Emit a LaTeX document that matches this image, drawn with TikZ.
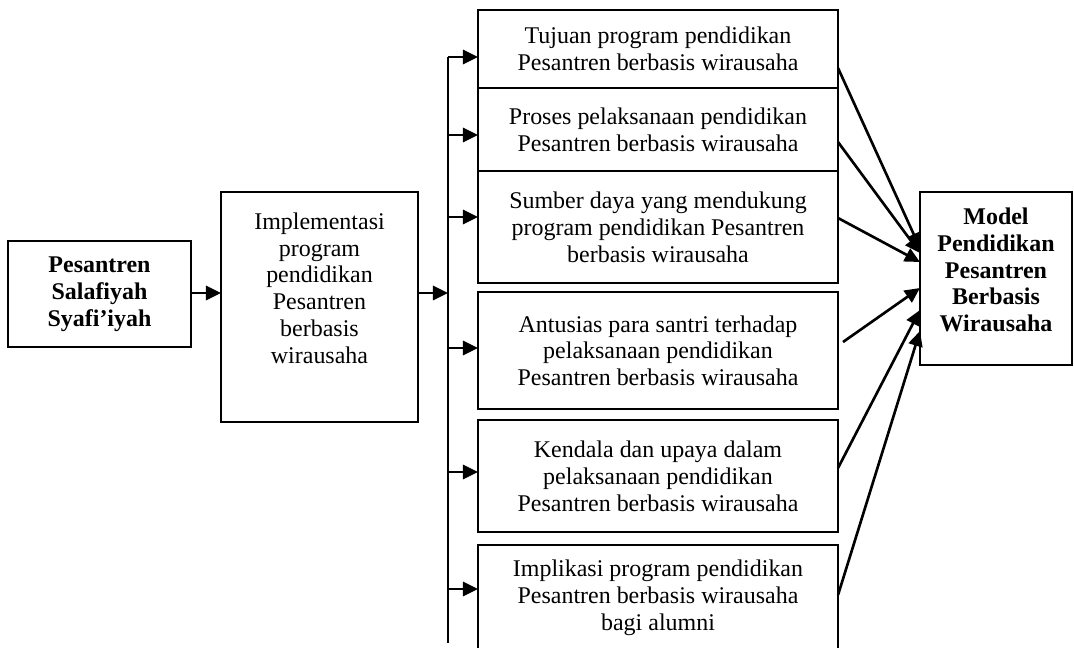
\documentclass[tikz,border=0pt]{standalone}
\usepackage{fontspec}
\setmainfont{Liberation Serif}
\usepackage{tikz}
\usetikzlibrary{arrows.meta, positioning, calc}

\begin{document}
\begin{tikzpicture}[x=0.53pt, y=-0.53pt, >={Triangle[length=8pt,width=7.5pt]}, every node/.style={font=\fontsize{12.7}{14.2}\selectfont}]
    \tikzstyle{block} = [rectangle, draw, line width=1pt, align=center, outer sep=0pt, inner sep=2pt]
    \tikzstyle{midblock} = [block, minimum width=190.8pt]
    \tikzstyle{line} = [draw, ->, line width=1.4pt]

    \useasboundingbox (0,0) rectangle (1074,647);
    \clip (0,0) rectangle (1074,647);

    \node [block, minimum width=97pt, minimum height=56.2pt, font=\fontsize{12.7}{14.2}\selectfont\bfseries] (salafiyah) at (99.5,294) {Pesantren\\Salafiyah\\Syafi’iyah};
    \node [block, minimum width=104.4pt, minimum height=121.9pt] (implementasi) at (319.5,307) {Implementasi\\program\\pendidikan\\Pesantren\\berbasis\\wirausaha\\[6pt]\mbox{}};

    \node [midblock, minimum height=41.3pt] (tujuan) at (658,49) {Tujuan program pendidikan\\Pesantren berbasis wirausaha};
    \node [midblock, minimum height=44pt, below=0pt of tujuan] (proses) {Proses pelaksanaan pendidikan\\Pesantren berbasis wirausaha};
    \node [midblock, minimum height=59.4pt, below=0pt of proses] (sumber) {Sumber daya yang mendukung\\program pendidikan Pesantren\\berbasis wirausaha};
    \node [midblock, minimum height=62pt, below=4.8pt of sumber] (antusias) {Antusias para santri terhadap\\pelaksanaan pendidikan\\Pesantren berbasis wirausaha};
    \node [midblock, minimum height=59.4pt, below=5.8pt of antusias] (kendala) {Kendala dan upaya dalam\\pelaksanaan pendidikan\\Pesantren berbasis wirausaha};
    \node [midblock, minimum height=55.7pt, below=6.9pt of kendala] (implikasi) {Implikasi program pendidikan\\Pesantren berbasis wirausaha\\bagi alumni};

    \node [block, minimum width=80.6pt, minimum height=91.7pt, font=\fontsize{12.7}{14.2}\selectfont\bfseries] (model) at (996,278.5) {Model\\Pendidikan\\Pesantren\\Berbasis\\Wirausaha\\[-5pt]\mbox{}};

    % trunk line feeding the six aspects
    \coordinate (trunktop) at (448,57);
    \coordinate (trunkbot) at (448,643);
    \draw [line width=1.4pt] (trunktop) -- (trunkbot);

    \path [line] (salafiyah.east |- 0,293) -- (implementasi.west |- 0,293);
    \path [line] (implementasi.east |- 0,293) -- (trunktop |- 0,293);
    \foreach \y/\n in {57/tujuan, 135/proses, 217/sumber, 348/antusias, 472/kendala, 589/implikasi}
        \path [line] (trunktop |- 0,\y) -- (\n.west |- 0,\y);

    % aspects into the model
    \foreach \n/\a/\b in {tujuan/68/248, proses/142/253, sumber/218/262, kendala/468/310, implikasi/595/331}
        \path [line] (\n.east |- 0,\a) -- (model.west |- 0,\b);
    \path [line] ($(antusias.east |- 0,342)+(5,0)$) -- (model.west |- 0,288);
\end{tikzpicture}
\end{document}
